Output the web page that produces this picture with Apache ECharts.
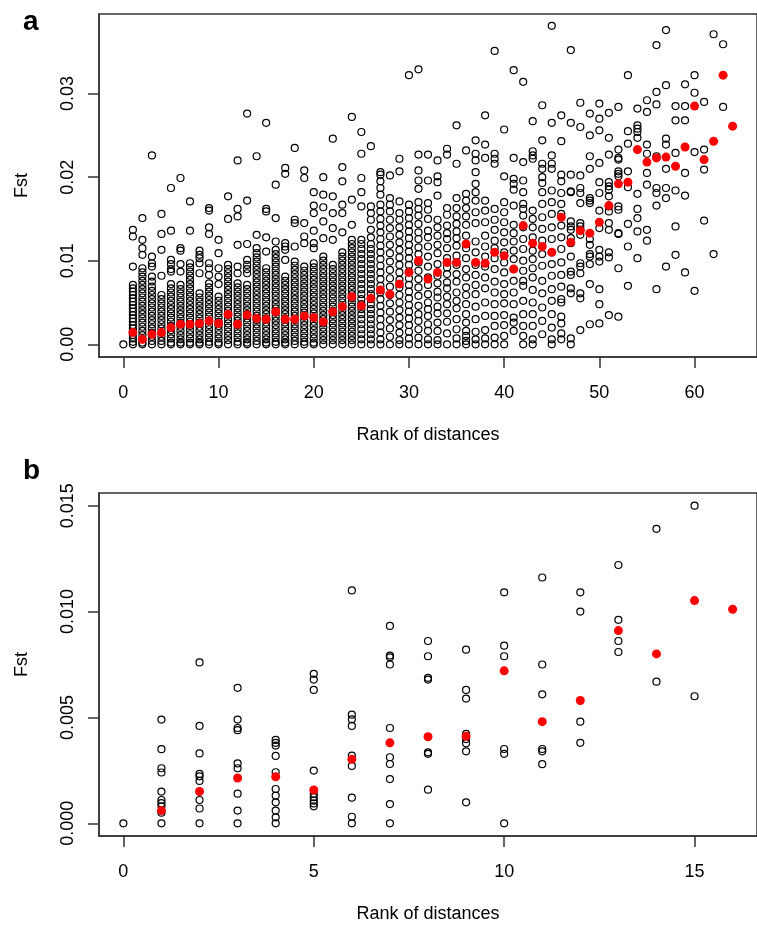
<!DOCTYPE html>
<html>
<head>
<meta charset="utf-8">
<script src="https://cdn.jsdelivr.net/npm/echarts@6/dist/echarts.min.js"></script>
<style>
  html, body { margin: 0; padding: 0; background: #fff; }
  #chart { width: 757px; height: 926px; }
</style>
</head>
<body>
<div id="chart"></div>
<script>
// Fst values are written in units of 0.001

// panel a: observed Fst for each rank of distance (index = rank)
const fstByRankA = [
  [0],
  [13.7, 12.9, 9.3, 7.1, 6.7, 6.3, 5.9, 5.5, 5.1, 4.7, 4.3, 3.9, 3.5, 3.1, 2.7, 2.3, 1.9, 1.5, 1.1, 0.7, 0.3, 0],
  [15.1, 12.5, 11.5, 10.7, 9.1, 8.6, 8.1, 7.6, 7.1, 6.6, 6.1, 5.6, 5.1, 4.6, 4.1, 3.6, 3.1, 2.6, 2.1, 1.6, 1.1, 0.6, 0.2, 0],
  [22.6, 10.5, 9.7, 9.3, 8.1, 7.5, 6.9, 6.4, 5.9, 5.4, 4.9, 4.4, 3.9, 3.4, 2.9, 2.4, 1.9, 1.4, 0.9, 0.4, 0],
  [15.6, 13.2, 11.3, 8.2, 5.9, 5.4, 4.9, 4.4, 3.9, 3.4, 2.9, 2.4, 1.9, 1.4, 0.9, 0.4, 0],
  [18.7, 13.6, 10.1, 9.6, 9.0, 8.7, 7.2, 6.7, 6.2, 5.7, 5.2, 4.7, 4.2, 3.7, 3.2, 2.7, 2.2, 1.7, 1.2, 0.7, 0.2, 0],
  [19.9, 11.5, 11.2, 9.6, 8.7, 7.1, 6.6, 6.1, 5.6, 5.1, 4.6, 4.1, 3.6, 3.1, 2.6, 2.1, 1.6, 1.1, 0.6, 0.2, 0],
  [17.1, 13.6, 9.7, 9.2, 8.7, 8.2, 7.7, 7.2, 6.7, 6.2, 5.7, 5.2, 4.7, 4.2, 3.7, 3.2, 2.7, 2.2, 1.7, 1.2, 0.7, 0.2, 0],
  [11.2, 10.7, 10.3, 9.7, 8.5, 6.1, 5.6, 5.1, 4.6, 4.1, 3.6, 3.1, 2.6, 2.1, 1.6, 1.1, 0.6, 0.2, 0],
  [16.3, 16.0, 14.0, 13.2, 9.7, 9.1, 8.3, 7.3, 6.8, 6.3, 5.8, 5.3, 4.8, 4.3, 3.8, 3.3, 2.8, 2.3, 1.8, 1.3, 0.8, 0.3, 0],
  [12.5, 10.9, 9.1, 8.1, 7.2, 5.7, 5.2, 4.7, 4.2, 3.7, 3.2, 2.7, 2.2, 1.7, 1.2, 0.7, 0.2, 0],
  [17.7, 15.0, 9.5, 9.0, 8.5, 8.0, 7.5, 7.0, 6.5, 6.0, 5.5, 5.0, 4.5, 4.0, 3.5, 3.0, 2.5, 2.0, 1.5, 1.0, 0.5, 0],
  [22.0, 16.2, 15.3, 11.9, 9.3, 8.5, 7.3, 6.8, 6.3, 5.8, 5.3, 4.8, 4.3, 3.8, 3.3, 2.8, 2.3, 1.8, 1.3, 0.8, 0.3, 0],
  [27.6, 17.2, 12.0, 10.1, 9.5, 9.0, 8.5, 7.1, 6.6, 6.1, 5.6, 5.1, 4.6, 4.1, 3.6, 3.1, 2.6, 2.1, 1.6, 1.1, 0.6, 0.2, 0],
  [22.5, 13.1, 11.5, 10.9, 10.4, 9.9, 9.4, 8.9, 8.4, 7.9, 7.4, 6.9, 6.4, 5.9, 5.4, 4.9, 4.4, 3.9, 3.4, 2.9, 2.4, 1.9, 1.4, 0.9, 0.4, 0],
  [26.5, 16.2, 15.9, 12.8, 11.1, 9.1, 8.6, 8.1, 7.6, 7.1, 6.6, 6.1, 5.6, 5.1, 4.6, 4.1, 3.6, 3.1, 2.6, 2.1, 1.6, 1.1, 0.6, 0.2, 0],
  [19.1, 15.1, 12.3, 11.3, 10.8, 10.3, 9.8, 9.3, 8.8, 8.3, 7.8, 7.3, 6.8, 6.3, 5.8, 5.3, 4.8, 4.3, 3.8, 3.3, 2.8, 2.3, 1.8, 1.3, 0.8, 0.3, 0],
  [21.1, 20.4, 12.1, 11.7, 11.3, 10.1, 8.1, 7.6, 7.1, 6.6, 6.1, 5.6, 5.1, 4.6, 4.1, 3.6, 3.1, 2.6, 2.1, 1.6, 1.1, 0.6, 0.2, 0],
  [23.5, 14.9, 14.5, 11.7, 9.9, 9.4, 8.9, 8.4, 7.9, 7.4, 6.9, 6.4, 5.9, 5.4, 4.9, 4.4, 3.9, 3.4, 2.9, 2.4, 1.9, 1.4, 0.9, 0.4, 0],
  [20.8, 19.9, 14.5, 12.9, 12.1, 9.3, 8.8, 8.3, 7.8, 7.3, 6.8, 6.3, 5.8, 5.3, 4.8, 4.3, 3.8, 3.3, 2.8, 2.3, 1.8, 1.3, 0.8, 0.3, 0],
  [18.2, 16.6, 15.7, 13.6, 12.1, 11.5, 9.7, 9.2, 8.7, 8.2, 7.7, 7.2, 6.7, 6.2, 5.7, 5.2, 4.7, 4.2, 3.7, 3.2, 2.7, 2.2, 1.7, 1.2, 0.7, 0.2, 0],
  [20.0, 17.9, 16.4, 14.7, 12.7, 10.5, 10.0, 9.5, 9.0, 8.5, 8.0, 7.5, 7.0, 6.5, 6.0, 5.5, 5.0, 4.5, 4.0, 3.5, 3.0, 2.5, 2.0, 1.5, 1.0, 0.5, 0],
  [24.6, 17.7, 15.7, 13.9, 12.5, 9.5, 9.0, 8.5, 8.0, 7.5, 7.0, 6.5, 6.0, 5.5, 5.0, 4.5, 4.0, 3.5, 3.0, 2.5, 2.0, 1.5, 1.0, 0.5, 0],
  [21.2, 19.5, 16.7, 15.7, 13.4, 11.0, 10.5, 10.0, 9.5, 9.0, 8.5, 8.0, 7.5, 7.0, 6.5, 6.0, 5.5, 5.0, 4.5, 4.0, 3.5, 3.0, 2.5, 2.0, 1.5, 1.0, 0.5, 0],
  [27.2, 17.3, 14.3, 12.5, 12.0, 11.5, 11.0, 10.5, 10.0, 9.5, 9.0, 8.5, 8.0, 7.5, 7.0, 6.5, 6.0, 5.5, 5.0, 4.5, 4.0, 3.5, 3.0, 2.5, 2.0, 1.5, 1.0, 0.5, 0],
  [25.4, 22.8, 19.9, 18.2, 16.5, 12.5, 12.0, 11.4, 10.8, 10.2, 9.6, 9.0, 8.4, 7.8, 7.2, 6.6, 6.0, 5.4, 4.8, 4.2, 3.6, 3.0, 2.4, 1.8, 1.2, 0.6, 0],
  [23.7, 16.5, 15.7, 14.9, 13.7, 12.8, 12.0, 11.4, 10.8, 10.2, 9.6, 9.0, 8.4, 7.8, 7.2, 6.6, 6.0, 5.4, 4.8, 4.2, 3.6, 3.0, 2.4, 1.8, 1.2, 0.6, 0],
  [20.6, 20.3, 19.5, 18.7, 17.9, 16.7, 15.9, 15.0, 14.2, 13.4, 12.6, 11.8, 11.0, 10.2, 9.4, 8.6, 7.8, 7.0, 6.2, 5.4, 4.6, 3.8, 3.0, 2.2, 1.4, 0.6, 0],
  [20.2, 17.5, 16.7, 15.9, 14.9, 13.9, 12.9, 11.9, 10.9, 9.9, 8.9, 7.9, 6.9, 5.9, 4.9, 3.9, 2.9, 1.9, 0.9, 0],
  [22.2, 20.7, 17.1, 15.7, 14.9, 14.0, 13.1, 12.2, 11.3, 10.4, 9.5, 8.6, 7.7, 6.8, 5.9, 5.0, 4.1, 3.2, 2.3, 1.4, 0.5, 0],
  [32.2, 16.7, 15.9, 15.1, 14.3, 13.5, 12.7, 11.9, 11.1, 10.3, 9.5, 8.7, 7.9, 7.1, 6.3, 5.5, 4.7, 3.9, 3.1, 2.3, 1.5, 0.7, 0],
  [32.9, 22.7, 20.8, 19.6, 18.6, 17.0, 16.2, 15.4, 14.4, 13.4, 12.6, 11.6, 10.8, 9.8, 8.8, 7.8, 6.8, 5.8, 4.6, 3.6, 2.8, 1.8, 0.8, 0],
  [22.7, 19.6, 16.9, 16.1, 15.0, 13.6, 12.8, 11.7, 10.5, 9.3, 8.0, 7.1, 6.0, 5.0, 4.2, 3.4, 2.4, 1.6, 0.6, 0],
  [22.0, 20.1, 19.4, 17.8, 14.9, 14.0, 13.0, 11.9, 10.9, 9.6, 8.2, 7.3, 6.3, 5.6, 4.5, 3.7, 2.6, 1.6, 0.5, 0],
  [23.4, 22.7, 16.3, 15.5, 14.2, 13.3, 12.6, 11.5, 10.3, 9.2, 8.4, 7.4, 6.7, 5.7, 4.8, 3.7, 2.7, 1.3, 0],
  [26.2, 21.6, 17.5, 16.3, 15.3, 14.4, 13.5, 12.7, 11.8, 10.6, 9.5, 8.4, 7.5, 6.2, 5.2, 4.3, 3.0, 1.8, 0.7, 0],
  [23.2, 18.0, 17.2, 16.3, 15.3, 14.3, 13.0, 11.5, 10.3, 9.0, 8.0, 6.8, 5.9, 4.8, 3.6, 2.6, 1.6, 1.0, 0.4, 0],
  [24.4, 22.8, 22.0, 20.6, 19.2, 18.2, 17.2, 15.8, 14.5, 12.3, 11.0, 9.5, 8.3, 7.1, 6.0, 4.5, 3.0, 1.5, 0.6, 0],
  [27.4, 23.9, 22.3, 17.2, 16.0, 14.6, 13.0, 11.7, 10.5, 9.3, 8.0, 6.7, 5.0, 3.4, 1.7, 0.7, 0],
  [35.1, 22.8, 22.2, 21.6, 16.2, 14.9, 13.7, 12.4, 11.5, 10.3, 9.0, 7.5, 6.2, 4.8, 3.4, 2.2, 0.8, 0],
  [25.7, 20.1, 17.0, 15.8, 14.6, 13.4, 12.2, 11.0, 9.8, 8.6, 7.2, 6.0, 4.9, 3.5, 2.3, 1.0, 0],
  [32.8, 22.3, 19.8, 19.2, 18.5, 16.6, 14.3, 13.3, 12.3, 11.2, 10.2, 9.0, 7.6, 6.2, 4.8, 3.2, 2.6, 1.6],
  [31.4, 21.8, 19.6, 18.2, 16.8, 16.2, 15.4, 14.0, 12.6, 11.4, 10.0, 8.8, 7.6, 7.0, 5.2, 3.6, 2.2, 1.0, 0],
  [26.7, 23.1, 22.6, 22.2, 16.0, 15.0, 14.0, 12.8, 11.2, 10.2, 9.1, 8.0, 6.5, 5.0, 3.6, 2.2, 0.6, 0],
  [28.6, 24.4, 21.6, 21.0, 20.0, 19.3, 18.2, 16.8, 15.2, 13.8, 12.4, 10.8, 9.4, 7.6, 6.1, 4.4, 2.8, 1.2],
  [38.1, 26.5, 22.6, 21.6, 21.0, 18.4, 17.0, 15.6, 14.0, 12.6, 11.0, 9.6, 8.2, 6.6, 5.2, 3.6, 2.0, 0.6, 0],
  [27.4, 24.3, 20.3, 19.5, 18.1, 16.8, 15.6, 14.2, 12.8, 11.4, 9.8, 8.3, 6.9, 5.4, 5.0, 3.3, 2.5, 1.3, 0.6],
  [35.2, 26.5, 20.3, 18.3, 18.2, 14.7, 14.1, 13.7, 12.7, 12.1, 10.5, 8.7, 8.3, 6.7, 6.1, 0.7, 0],
  [28.9, 26.0, 20.2, 18.7, 18.1, 16.9, 14.5, 14.1, 13.7, 13.1, 9.7, 9.3, 8.5, 6.1, 5.5, 1.7],
  [27.6, 25.0, 22.5, 21.0, 17.5, 17.2, 16.9, 12.6, 11.9, 10.8, 10.5, 9.6, 7.2, 2.4],
  [28.8, 27.0, 25.6, 21.7, 19.4, 18.1, 16.0, 13.9, 11.3, 10.5, 9.9, 6.6, 4.8, 2.5],
  [27.7, 24.7, 22.7, 19.4, 18.9, 18.5, 17.7, 16.5, 15.9, 14.5, 13.7, 11.0, 10.4, 3.5],
  [28.4, 23.3, 22.3, 22.1, 20.7, 20.4, 20.1, 16.5, 16.1, 13.3, 13.2, 9.1, 3.3],
  [32.2, 25.5, 24.0, 20.7, 18.8, 14.4, 11.7, 7.0],
  [28.2, 26.2, 25.8, 25.4, 24.7, 18.0, 16.2, 15.1, 13.5, 10.3],
  [29.2, 27.8, 23.9, 22.8, 20.5, 19.1, 13.7, 12.4],
  [35.8, 30.2, 28.7, 22.5, 18.7, 18.1, 16.6, 6.6],
  [37.6, 31.0, 24.6, 23.9, 21.0, 18.7, 17.5, 9.3],
  [28.5, 26.8, 22.9, 18.4, 14.1, 10.7],
  [31.1, 28.5, 26.8, 20.5, 17.8, 8.6],
  [32.2, 30.1, 23.0, 6.4],
  [29.0, 23.3, 20.9, 14.8],
  [37.1, 10.8],
  [35.9, 28.4],
  []
];
// panel a: mean Fst per rank (red dots)
const meanRankA = [1, 2, 3, 4, 5, 6, 7, 8, 9, 10, 11, 12, 13, 14, 15, 16, 17, 18, 19, 20, 21, 22, 23, 24, 25, 26, 27, 28, 29, 30, 31, 32,
  33, 34, 35, 36, 37, 38, 39, 40, 41, 42, 43, 44, 45, 46, 47, 48, 49, 50, 51, 52, 53, 54, 55, 56, 57, 58, 59, 60, 61, 62, 63, 64];
const meanFstA = [1.4, 0.6, 1.2, 1.4, 2.0, 2.4, 2.4, 2.5, 2.8, 2.5, 3.6, 2.4, 3.5, 3.1, 3.0, 3.9, 3.0, 3.0, 3.4, 3.2, 2.7, 3.9, 4.5, 5.7,
  4.6, 5.5, 6.5, 6.0, 7.2, 8.6, 10.0, 7.8, 8.6, 9.8, 9.8, 12.0, 9.8, 9.7, 11.0, 10.6, 9.0, 14.2, 12.1, 11.7, 11.0, 15.2,
  12.2, 13.6, 13.3, 14.6, 16.6, 19.2, 19.4, 23.3, 21.8, 22.3, 22.4, 21.3, 23.6, 28.5, 22.1, 24.3, 32.2, 26.1];

// panel b
const fstByRankB = [
  [0],
  [4.9, 3.5, 2.6, 2.4, 1.5, 1.1, 0.95, 0.8, 0.5, 0],
  [7.6, 4.6, 3.3, 2.33, 2.22, 2.0, 1.1, 0.7, 0],
  [6.4, 4.9, 4.5, 4.4, 2.83, 2.6, 1.4, 0.6, 0],
  [3.94, 3.8, 3.67, 3.18, 2.41, 1.62, 1.31, 0.99, 0.6, 0.28, 0],
  [7.06, 6.79, 6.3, 2.49, 1.39, 1.23, 1.07, 0.94, 0.8],
  [11.0, 5.13, 4.91, 4.6, 3.2, 2.71, 1.21, 0.31, 0],
  [9.32, 7.92, 7.84, 7.5, 4.5, 3.12, 2.8, 2.09, 0.91, 0],
  [8.61, 7.89, 6.87, 6.79, 3.35, 3.28, 1.59],
  [8.2, 6.3, 5.89, 4.22, 3.98, 3.78, 3.4, 0.99],
  [10.91, 8.39, 7.89, 3.51, 3.28, 0],
  [11.61, 7.5, 6.09, 3.51, 3.4, 2.79],
  [10.91, 10.0, 4.8, 3.8],
  [12.2, 9.61, 8.61, 8.09],
  [13.91, 6.69],
  [15.0, 6.0],
  []
];
const meanRankB = [1, 2, 3, 4, 5, 6, 7, 8, 9, 10, 11, 12, 13, 14, 15, 16];
const meanFstB = [0.6, 1.5, 2.14, 2.2, 1.57, 3.02, 3.8, 4.09, 4.11, 7.2, 4.8, 5.8, 9.1, 8.0, 10.52, 10.11];

const xTicksA = [0, 10, 20, 30, 40, 50, 60];
const yTicksA = [0, 0.01, 0.02, 0.03];
const xTicksB = [0, 5, 10, 15];
const yTicksB = [0, 0.005, 0.01, 0.015];

const chart = echarts.init(document.getElementById("chart"));
const font = "Liberation Sans, Arial, Helvetica, sans-serif";
const axisColor = "#333";

function toPoints(byRank) {
  return byRank.flatMap((vals, rank) => vals.map((v) => [rank, v / 1000]));
}
function meanPoints(ranks, vals) {
  return ranks.map((r, i) => [r, vals[i] / 1000]);
}

function xAxis(grid, min, max, ticks) {
  return {
    type: "value",
    gridIndex: grid,
    min: min,
    max: max,
    name: "Rank of distances",
    nameLocation: "middle",
    nameGap: 69,
    nameTextStyle: { fontFamily: font, fontSize: 18, color: "#000" },
    axisLine: { show: true, onZero: false, lineStyle: { color: axisColor, width: 1.5 } },
    axisTick: { show: true, customValues: ticks, length: 11, lineStyle: { color: axisColor, width: 1.5 } },
    axisLabel: { customValues: ticks, margin: 27, fontFamily: font, fontSize: 18, color: "#000" },
    splitLine: { show: false },
  };
}
function yAxis(grid, min, max, ticks, digits) {
  return {
    type: "value",
    gridIndex: grid,
    min: min,
    max: max,
    name: "Fst",
    nameLocation: "middle",
    nameGap: 68,
    nameTextStyle: { fontFamily: font, fontSize: 18, color: "#000" },
    axisLine: { show: true, onZero: false, lineStyle: { color: axisColor, width: 1.5 } },
    axisTick: { show: true, customValues: ticks, length: 11, lineStyle: { color: axisColor, width: 1.5 } },
    axisLabel: {
      customValues: ticks,
      rotate: 90,
      margin: 22,
      fontFamily: font,
      fontSize: 18,
      color: "#000",
      formatter: (v) => v.toFixed(digits),
    },
    splitLine: { show: false },
  };
}
function openSeries(idx, data) {
  return {
    type: "scatter",
    xAxisIndex: idx,
    yAxisIndex: idx,
    data: data,
    symbol: "circle",
    symbolSize: 7,
    silent: true,
    itemStyle: { color: "rgba(0,0,0,0)", borderColor: "#000", borderWidth: 1.2, opacity: 1 },
    z: 2,
  };
}
function meanSeries(idx, data) {
  return {
    type: "scatter",
    xAxisIndex: idx,
    yAxisIndex: idx,
    data: data,
    symbol: "circle",
    symbolSize: 9,
    silent: true,
    itemStyle: { color: "#ff0000", opacity: 1 },
    z: 3,
  };
}

const option = {
  backgroundColor: "#fff",
  animation: false,
  title: [
    { text: "a", left: 23, top: 8, padding: 0, textStyle: { fontFamily: font, fontSize: 28, fontWeight: "bold", color: "#000" } },
    { text: "b", left: 23, top: 457, padding: 0, textStyle: { fontFamily: font, fontSize: 28, fontWeight: "bold", color: "#000" } },
  ],
  grid: [
    { left: 99, top: 14, width: 669, height: 343, show: true, borderColor: axisColor, borderWidth: 1.5 },
    { left: 99, top: 493, width: 669, height: 343, show: true, borderColor: axisColor, borderWidth: 1.5 },
  ],
  xAxis: [xAxis(0, -2.56, 66.56, xTicksA), xAxis(1, -0.64, 16.64, xTicksB)],
  yAxis: [yAxis(0, -0.00152, 0.03952, yTicksA, 2), yAxis(1, -0.0006, 0.0156, yTicksB, 3)],
  series: [
    openSeries(0, toPoints(fstByRankA)),
    meanSeries(0, meanPoints(meanRankA, meanFstA)),
    openSeries(1, toPoints(fstByRankB)),
    meanSeries(1, meanPoints(meanRankB, meanFstB)),
  ],
};
chart.setOption(option);
</script>
</body>
</html>
